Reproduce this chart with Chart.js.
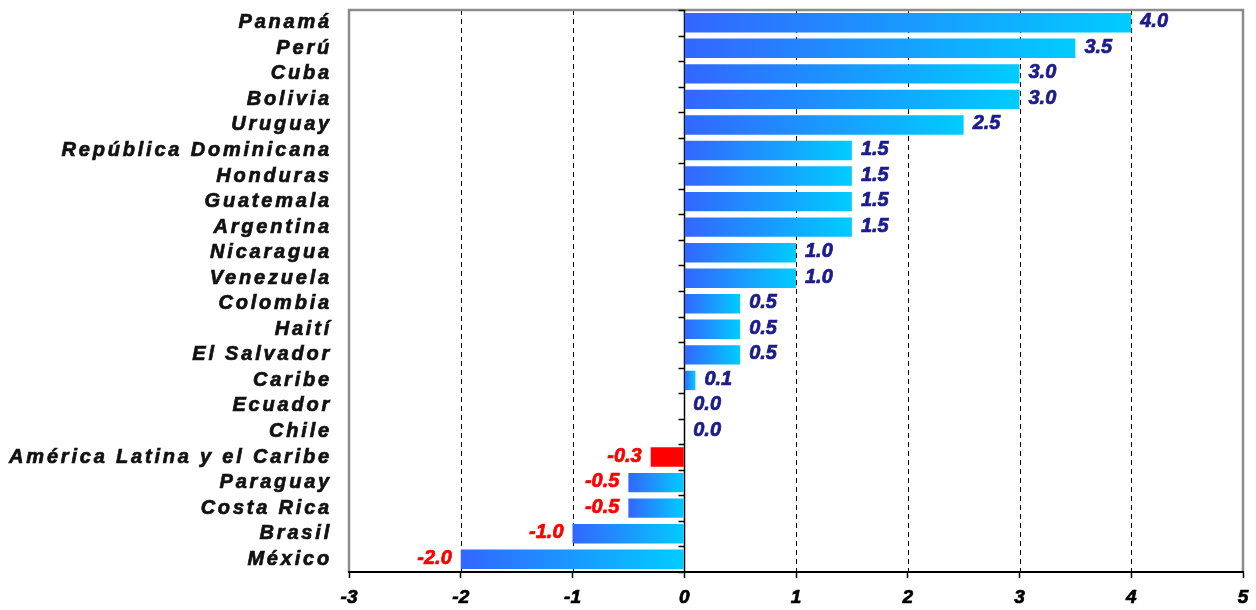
<!DOCTYPE html>
<html lang="es">
<head>
<meta charset="utf-8">
<title>Variación por país</title>
<script src="https://cdn.jsdelivr.net/npm/chart.js@4.4.1/dist/chart.umd.min.js"></script>
<style>
  html, body { margin: 0; padding: 0; background: #ffffff; }
  #wrap { width: 1256px; height: 610px; }
</style>
</head>
<body>
<div id="wrap"><canvas id="chart" width="1256" height="610"></canvas></div>
<script>
// Countries, top to bottom
const categories = [
  'Panamá', 'Perú', 'Cuba', 'Bolivia', 'Uruguay', 'República Dominicana',
  'Honduras', 'Guatemala', 'Argentina', 'Nicaragua', 'Venezuela', 'Colombia',
  'Haití', 'El Salvador', 'Caribe', 'Ecuador', 'Chile',
  'América Latina y el Caribe', 'Paraguay', 'Costa Rica', 'Brasil', 'México'
];

// Values per country
const values = [
  4.0, 3.5, 3.0, 3.0, 2.5, 1.5,
  1.5, 1.5, 1.5, 1.0, 1.0, 0.5,
  0.5, 0.5, 0.1, 0.0, 0.0,
  -0.3, -0.5, -0.5, -1.0, -2.0
];

// Regional aggregate drawn in solid red
const regionalTotal = 'América Latina y el Caribe';

// Value axis range and tick values
const xMin = -3;
const xMax = 5;
const xTickValues = [-3, -2, -1, 0, 1, 2, 3, 4, 5];

const FONT_FAMILY = '"Liberation Sans", Arial, Helvetica, sans-serif';
const BLUE_DARK = '#3366ff';
const BLUE_LIGHT = '#00ccff';
const NAVY = '#1c1c8c';
const RED = '#ff0000';

function barFill(ctx) {
  const chart = ctx.chart;
  if (categories[ctx.dataIndex] === regionalTotal) return RED;
  if (!chart.chartArea) return BLUE_DARK;
  const v = values[ctx.dataIndex];
  const xs = chart.scales.x;
  const x0 = xs.getPixelForValue(Math.min(0, v));
  const x1 = xs.getPixelForValue(Math.max(0, v));
  if (x1 - x0 < 1) return BLUE_LIGHT;
  const g = chart.ctx.createLinearGradient(x0, 0, x1, 0);
  g.addColorStop(0, BLUE_DARK);
  g.addColorStop(1, BLUE_LIGHT);
  return g;
}

// Frame, dashed reference lines, zero line and its category ticks
const framePlugin = {
  id: 'frame',
  beforeDraw(chart) {
    // spaced lettering for the country names
    chart.ctx.letterSpacing = '2.8px';
  },
  beforeDatasetsDraw(chart) {
    const ctx = chart.ctx;
    ctx.letterSpacing = '0px';
    const { left, right, top, bottom } = chart.chartArea;
    const xs = chart.scales.x;
    const ys = chart.scales.y;
    ctx.save();
    // dashed verticals
    ctx.strokeStyle = '#000000';
    ctx.lineWidth = 1;
    ctx.setLineDash([5, 4]);
    xTickValues.forEach(v => {
      if (v === 0 || v === xMin || v === xMax) return;
      const px = Math.round(xs.getPixelForValue(v)) + 0.5;
      ctx.beginPath();
      ctx.moveTo(px, top);
      ctx.lineTo(px, bottom);
      ctx.stroke();
    });
    ctx.setLineDash([]);
    // gray frame: left, top, right
    ctx.strokeStyle = '#8c8c8c';
    ctx.lineWidth = 2.5;
    ctx.beginPath();
    ctx.moveTo(left, bottom);
    ctx.lineTo(left, top);
    ctx.lineTo(right, top);
    ctx.lineTo(right, bottom);
    ctx.stroke();
    // zero line
    const zx = Math.round(xs.getPixelForValue(0)) + 0.5;
    ctx.strokeStyle = '#000000';
    ctx.lineWidth = 1.5;
    ctx.beginPath();
    ctx.moveTo(zx, top);
    ctx.lineTo(zx, bottom);
    ctx.stroke();
    // category boundary ticks on the zero line
    for (let i = 0; i <= categories.length; i++) {
      const py = Math.round(ys.getPixelForValue(i - 0.5)) + 0.5;
      ctx.beginPath();
      ctx.moveTo(zx - 6, py);
      ctx.lineTo(zx, py);
      ctx.stroke();
    }
    ctx.restore();
  },
  afterDatasetsDraw(chart) {
    const ctx = chart.ctx;
    const meta = chart.getDatasetMeta(0);
    ctx.save();
    ctx.letterSpacing = '0px';
    ctx.font = 'italic bold 20px ' + FONT_FAMILY;
    ctx.textBaseline = 'middle';
    ctx.lineWidth = 0.7;
    ctx.lineJoin = 'round';
    meta.data.forEach((bar, i) => {
      const v = values[i];
      const text = v.toFixed(1);
      const color = v < 0 ? RED : NAVY;
      const x = v < 0 ? bar.x - 9 : bar.x + 9;
      ctx.fillStyle = color;
      ctx.strokeStyle = color;
      ctx.textAlign = v < 0 ? 'right' : 'left';
      ctx.fillText(text, x, bar.y - 1);
      ctx.strokeText(text, x, bar.y - 1);
    });
    ctx.restore();
  },
  afterDraw(chart) {
    chart.ctx.letterSpacing = '0px';
  }
};

new Chart(document.getElementById('chart'), {
  type: 'bar',
  data: {
    labels: categories,
    datasets: [{
      data: values,
      backgroundColor: barFill,
      borderWidth: 0,
      barPercentage: 0.76,
      categoryPercentage: 1.0
    }]
  },
  options: {
    indexAxis: 'y',
    responsive: false,
    animation: false,
    devicePixelRatio: 1,
    layout: { padding: { top: 10, right: 13, left: 0, bottom: 0 } },
    plugins: {
      legend: { display: false },
      tooltip: { enabled: false }
    },
    scales: {
      x: {
        type: 'linear',
        min: xMin,
        max: xMax,
        afterBuildTicks(scale) {
          scale.ticks = xTickValues.map(v => ({ value: v }));
        },
        afterFit(scale) {
          scale.height = 38;
          scale.paddingLeft = 0;
          scale.paddingRight = 0;
        },
        grid: {
          drawOnChartArea: false,
          drawTicks: true,
          tickLength: 6,
          tickWidth: 1.5,
          tickColor: '#000000',
          z: 1
        },
        border: { display: true, color: '#000000', width: 2, z: 1 },
        ticks: {
          z: 1,
          padding: 8,
          color: '#000000',
          textStrokeColor: '#000000',
          textStrokeWidth: 0.7,
          font: { family: FONT_FAMILY, size: 19, weight: 'bold', style: 'italic' },
          callback: v => String(v)
        }
      },
      y: {
        type: 'category',
        offset: true,
        afterFit(scale) {
          scale.width = 349;
          scale.paddingTop = 0;
          scale.paddingBottom = 0;
        },
        grid: { display: false, drawTicks: false },
        border: { display: false },
        ticks: {
          padding: 17,
          autoSkip: false,
          color: '#111111',
          textStrokeColor: '#111111',
          textStrokeWidth: 0.7,
          font: { family: FONT_FAMILY, size: 20, weight: 'bold', style: 'italic' }
        }
      }
    }
  },
  plugins: [framePlugin]
});
</script>
</body>
</html>
